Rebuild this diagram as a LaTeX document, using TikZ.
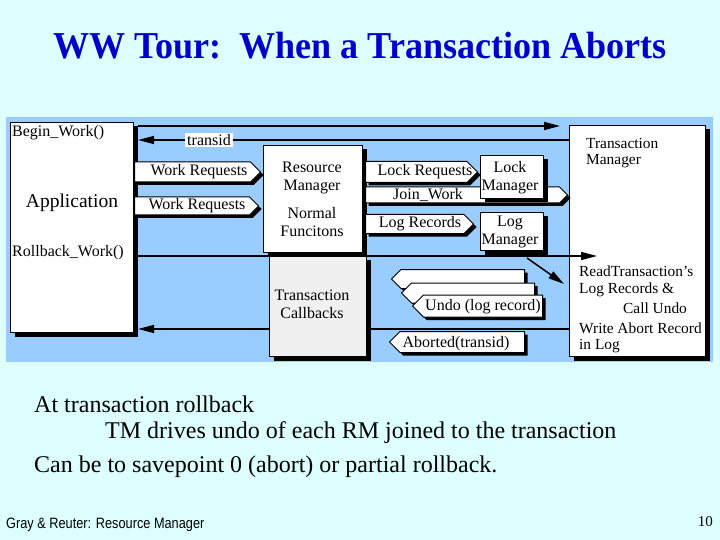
\documentclass[tikz,border=0pt]{standalone}
\usepackage{fontspec}
\setmainfont{Liberation Serif}
\setsansfont{Liberation Sans}
\usetikzlibrary{shapes.arrows,shadows,arrows.meta}
\definecolor{slidebg}{RGB}{221,255,255}
\definecolor{panel}{RGB}{153,204,255}
\definecolor{titleblue}{RGB}{0,0,204}
\begin{document}
\begin{tikzpicture}[x=1pt,y=-1pt,
  txt/.style={font=\fontsize{16}{18}\selectfont, inner sep=0pt},
  tmtxt/.style={font=\fontsize{15.4}{17}\selectfont, inner sep=0pt, anchor=west},
  shad/.style={drop shadow={fill=black,opacity=1,shadow xshift=4pt,shadow yshift=-4pt}},
  box/.style={draw=black, line width=1pt, fill=white, anchor=north west, inner sep=0pt, shad},
  rarrow/.style={single arrow, draw=black, line width=1pt, fill=white, single arrow head extend=0pt,
     inner sep=0pt, anchor=tail, drop shadow={fill=black,opacity=1,shadow xshift=3pt,shadow yshift=-3pt}},
  larrow/.style={rarrow, shape border rotate=180},
  conn/.style={line width=1.5pt, -{Triangle[length=16pt,width=8pt]}},
  body/.style={font=\fontsize{24}{28}\selectfont, anchor=west, inner sep=0pt},
]
\useasboundingbox (0,0) rectangle (720,540);
\fill[slidebg] (0,0) rectangle (720,540);
\fill[panel] (6,117) rectangle (713,362);

% title
\node[font=\fontsize{38}{42}\selectfont\bfseries, text=titleblue] (title) at (360,46) {\scalebox{0.95}[1]{WW Tour:\ \ When a Transaction Aborts}};

% coordinates for connector ends
\coordinate (bwend) at (560,126);
\coordinate (tidy) at (0,140);
\coordinate (rbend) at (597,256);
\coordinate (rety) at (0,329);
\coordinate (lgs) at (527,258);
\coordinate (lge) at (564,284);

% main boxes
\node[box, minimum width=123pt, minimum height=210pt] (app) at (10,122) {};
\node[box, minimum width=136pt, minimum height=231pt] (tm) at (569,125) {};

% connectors under the inner boxes
\draw[conn] ([xshift=4pt]app.east |- bwend) -- (bwend);
\draw[conn] (tm.west |- tidy) -- ([xshift=4pt]app.east |- tidy);
\draw[conn] (tm.west |- rety) -- ([xshift=4pt]app.east |- rety);
\node[fill=white, txt, inner xsep=2pt, inner ysep=1pt] (tidlab) at (209,140) {transid};

% RM and callbacks
\node[box, fill=black!6, minimum width=97pt, minimum height=101pt] (cb) at (269,255) {};
\node[box, minimum width=99pt, minimum height=107pt] (rm) at (263,145) {};

% block arrows
\node[rarrow, minimum height=126pt, minimum width=20pt] (wr1) at (134,172) {};
\node[rarrow, minimum height=124pt, minimum width=18pt] (wr2) at (134,206) {};
\node[rarrow, minimum height=202pt, minimum width=16pt] (jw) at (365,195) {};
\node[rarrow, minimum height=112pt, minimum width=21pt] (lr) at (365,172) {};
\node[rarrow, minimum height=108pt, minimum width=19pt] (lgr) at (365,224) {};
\node[larrow, minimum height=133pt, minimum width=19pt] (u1) at (525,279) {};
\node[larrow, minimum height=133pt, minimum width=20pt] (u2) at (535,293) {};
\node[larrow, minimum height=130pt, minimum width=22pt] (u3) at (543,306) {};
\node[larrow, minimum height=135pt, minimum width=21pt] (ab) at (525,342) {};

% lock / log managers
\node[box, minimum width=63pt, minimum height=43pt] (lockm) at (480,155) {};
\node[box, minimum width=63pt, minimum height=38pt] (logm) at (480,212) {};

% connectors over boxes
\draw[conn] ([xshift=4pt]app.east |- rbend) -- (rbend);
\draw[conn] (lgs) -- (lge);

% texts
\node[txt, anchor=west] (t1) at (12,133) {Begin\_Work()};
\node[font=\fontsize{19.5}{22}\selectfont, inner sep=0pt] (t2) at (72,203) {Application};
\node[txt, anchor=west] (t3) at (12,253) {Rollback\_Work()};
\node[txt] (t4) at (199,172) {Work Requests};
\node[txt] (t5) at (197,206) {Work Requests};
\node[txt, align=center] (t6) at (312,178) {Resource\\Manager};
\node[txt, align=center] (t7) at (312,222) {Normal\\Funcitons};
\node[txt, align=center] (t8) at (312,304) {Transaction\\Callbacks};
\node[txt] (t9) at (425,172) {Lock Requests};
\node[txt] (t10) at (428,195) {Join\_Work};
\node[txt] (t11) at (420,224) {Log Records};
\node[txt, align=center] (t12) at (510,178) {Lock\\Manager};
\node[txt, align=center] (t13) at (510,232) {Log\\Manager};
\node[txt] (t14) at (483,307) {Undo (log record)};
\node[txt] (t15) at (456,344) {Aborted(transid)};
\node[tmtxt] (t16) at (586,143) {Transaction};
\node[tmtxt] (t17) at (586,161) {Manager};
\node[tmtxt] (t18) at (579,271) {ReadTransaction's};
\node[tmtxt] (t19) at (579,290) {Log Records \&};
\node[tmtxt] (t20) at (623,308) {Call Undo};
\node[tmtxt] (t21) at (579,328) {Write Abort Record};
\node[tmtxt] (t22) at (579,346) {in Log};

% body text
\node[body] (b1) at (34,404) {At transaction rollback};
\node[body] (b2) at (105,433) {TM drives undo of each RM joined to the transaction};
\node[body] (b3) at (34,467) {Can be to savepoint 0 (abort) or partial rollback.};

% footer
\node[font=\sffamily\fontsize{15}{17}\selectfont, anchor=west, inner sep=0pt] (f1) at (6,525) {\scalebox{0.85}[1]{Gray \& Reuter: Resource Manager}};
\node[font=\fontsize{15}{17}\selectfont, anchor=east, inner sep=0pt] (f2) at (713,522) {10};
\end{tikzpicture}
\end{document}
